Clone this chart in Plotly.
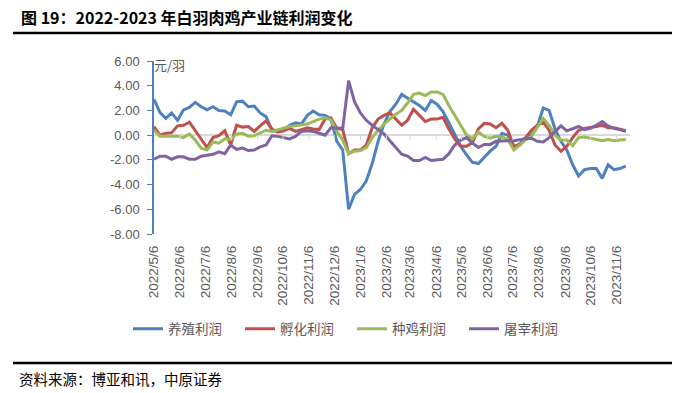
import datetime as dt
import plotly.graph_objects as go

# ---------------- data ----------------
start = dt.date(2022, 5, 6)
n_weeks = 81
dates = [start + dt.timedelta(days=7 * i) for i in range(n_weeks)]

breeding = [2.9, 1.85, 1.35, 1.8, 1.2, 2.05, 2.25, 2.65, 2.3, 2.05,
            2.3, 2.0, 1.95, 1.65, 2.7, 2.75, 2.3, 2.35, 1.8, 1.5,
            0.4, 0.27, 0.4, 0.8, 1.0, 0.9, 1.6, 1.95, 1.65, 1.6,
            1.3, -0.5, -1.2, -6.0, -4.8, -4.4, -3.7, -2.3, -0.5, 0.9,
            1.9, 2.5, 3.3, 3.0, 2.7, 2.4, 2.0, 2.8, 2.5, 1.9,
            1.0, 0.0, -0.9, -1.6, -2.2, -2.3, -1.8, -1.3, -0.9, 0.15,
            0.0, -1.0, -0.7, -0.3, 0.0, 0.7, 2.2, 2.0, 0.5, -0.5,
            -1.2, -2.4, -3.3, -2.8, -2.7, -2.7, -3.5, -2.4, -2.8, -2.7,
            -2.5]

hatching = [0.7, 0.0, 0.15, 0.2, 0.75, 0.8, 1.05, 0.4, -0.3, -1.0,
            -0.2, -0.05, 0.35, -0.8, 0.8, 0.65, 0.7, 0.3, 0.75, 1.15,
            0.5, 0.25, 0.35, 0.55, 0.3, 0.45, 0.6, 0.5, 0.45, 1.3,
            1.4, 0.55, 0.45, -1.5, -1.2, -1.2, -0.8, 0.6, 1.3, 1.6,
            1.8, 1.3, 0.8, 1.2, 2.1, 1.6, 1.1, 1.3, 1.3, 1.45,
            0.5, -0.3, -0.9, -0.9, -0.6, 0.5, 0.95, 0.9, 0.6, 0.95,
            0.4, -0.9, -0.8, -0.2, 0.4, 0.8, 1.05, 0.4, -0.8, -1.3,
            -0.9, -0.2, 0.4, 0.55, 0.6, 0.7, 0.8, 0.6, 0.6, 0.5,
            0.35]

parent = [0.4, -0.08, -0.08, -0.08, -0.08, -0.2, 0.1, -0.4, -1.05, -1.2,
          -0.55, -0.65, -0.3, -0.35, 0.1, 0.15, -0.08, -0.05, 0.2, 0.4,
          0.3, 0.42, 0.55, 0.7, 0.75, 0.85, 0.9, 1.1, 1.3, 1.4,
          1.25, 0.3, -0.4, -1.5, -1.3, -1.25, -1.0, -0.2, 0.4, 0.9,
          1.3, 1.7, 2.0, 2.6, 3.3, 3.4, 3.2, 3.5, 3.5, 3.3,
          2.4, 1.6, 0.7, 0.0, -0.3, 0.25, -0.1, -0.25, -0.1, -0.15,
          -0.35, -1.2, -0.8, -0.4, -0.1, 0.6, 1.35, 0.8, 0.0, -0.4,
          -0.4, -0.85, -0.2, -0.15, -0.25, -0.35, -0.45, -0.35, -0.45, -0.4,
          -0.35]

slaughter = [-1.95, -1.7, -1.7, -1.95, -1.75, -1.75, -1.95, -1.95, -1.7, -1.6,
             -1.55, -1.35, -1.5, -0.8, -1.15, -1.05, -1.25, -1.2, -0.95, -0.8,
             -0.05, -0.1, -0.2, -0.3, -0.1, 0.3, 0.35, 0.3, 0.15, 0.0,
             0.6, 0.55, 0.55, 4.4, 2.7, 1.8, 1.2, 0.8, 0.45, 0.1,
             -0.45, -1.0, -1.55, -1.7, -2.05, -2.05, -1.8, -2.05, -2.0, -1.95,
             -1.5, -0.8, -0.4, -0.2, -0.65, -1.0, -0.75, -0.75, -0.5, -0.45,
             -0.45, -0.45, -0.35, -0.3, -0.25, -0.5, -0.55, -0.2, 0.3, 0.75,
             0.35, 0.55, 0.7, 0.45, 0.55, 0.8, 1.1, 0.75, 0.55, 0.45,
             0.3]

series_names = ["养殖利润", "孵化利润", "种鸡利润", "屠宰利润"]
series_values = [breeding, hatching, parent, slaughter]
series_colors = ["#4F81BD", "#C0504D", "#9BBB59", "#8064A2"]

x_tick_dates = [dt.date(2022, m, 6) for m in range(5, 13)] + \
               [dt.date(2023, m, 6) for m in range(1, 12)]
x_tick_labels = [f"{d.year}/{d.month}/{d.day}" for d in x_tick_dates]

y_tick_vals = [6, 4, 2, 0, -2, -4, -6, -8]
y_tick_labels = [f"{v:.2f}" for v in y_tick_vals]

title_text = "图 19：2022-2023 年白羽肉鸡产业链利润变化"
unit_text = "元/羽"
source_text = "资料来源：博亚和讯，中原证券"

# ---------------- figure ----------------
W, H = 687, 393
L, R, T, B = 154, 630, 61, 234  # plot area in px

def px_x(x):
    return (x - L) / (R - L)

def px_y(y):
    return (B - y) / (B - T)

cjk = "Noto Sans CJK SC"
grey = "#595959"

fig = go.Figure()
for name, vals, col in zip(series_names, series_values, series_colors):
    fig.add_trace(go.Scatter(
        x=dates, y=vals, name=name, mode="lines",
        line=dict(color=col, width=3, shape="linear"),
    ))

# small tick marks on the zero line at each month label
shapes = []
for d in x_tick_dates:
    shapes.append(dict(type="line", xref="x", yref="y", x0=d, x1=d,
                       ysizemode="pixel", yanchor=0, y0=0, y1=-5,
                       line=dict(color="#D9D9D9", width=1)))
# heavy rules above chart and above source
shapes.append(dict(type="line", xref="paper", yref="paper",
                   x0=px_x(13), x1=px_x(672), y0=px_y(33), y1=px_y(33),
                   line=dict(color="#000000", width=2.5)))
shapes.append(dict(type="line", xref="paper", yref="paper",
                   x0=px_x(13), x1=px_x(672), y0=px_y(363), y1=px_y(363),
                   line=dict(color="#000000", width=2.5)))

fig.update_layout(
    width=W, height=H,
    margin=dict(l=L, r=W - R, t=T, b=H - B, pad=0),
    paper_bgcolor="white", plot_bgcolor="white",
    font=dict(family=cjk, color=grey),
    title=dict(text=title_text, xref="container", yref="container",
               x=21 / W, y=1 - 18 / H, xanchor="left", yanchor="middle",
               font=dict(family=cjk, size=16, color="#000000", weight="bold")),
    showlegend=True,
    legend=dict(orientation="h", x=px_x(128), y=px_y(329),
                xanchor="left", yanchor="middle",
                font=dict(family=cjk, size=13.5, color=grey),
                itemwidth=30, entrywidth=67, bgcolor="rgba(0,0,0,0)"),
    shapes=shapes,
    annotations=[
        dict(text=unit_text, xref="paper", yref="paper",
             x=px_x(152), y=px_y(64), xanchor="left", yanchor="middle",
             showarrow=False, font=dict(family=cjk, size=13, color=grey)),
        dict(text=source_text, xref="paper", yref="paper",
             x=px_x(17), y=px_y(378), xanchor="left", yanchor="middle",
             showarrow=False, font=dict(family=cjk, size=14.5, color="#000000")),
    ],
)

fig.update_xaxes(
    type="date",
    range=[dt.date(2022, 5, 6), dt.date(2023, 11, 22)],
    tickvals=x_tick_dates, ticktext=x_tick_labels,
    tickangle=-90, showgrid=False, showline=False, zeroline=False,
    ticks="", ticklabelstandoff=8,
    tickfont=dict(family="Liberation Sans", size=13.5, color=grey),
)
fig.update_yaxes(
    range=[-8, 6], tickvals=y_tick_vals, ticktext=y_tick_labels,
    showgrid=False, zeroline=True, zerolinecolor="#D9D9D9", zerolinewidth=1.5,
    showline=True, linecolor="#4F81BD", linewidth=1.5,
    ticks="outside", ticklen=5, tickcolor="#4F81BD", tickwidth=1,
    tickfont=dict(family="Liberation Sans", size=13, color=grey),
    ticklabelstandoff=5,
)

fig.write_html("out.html",
               config={"displayModeBar": False},
               post_script="document.body.style.margin='0';document.body.style.padding='0';")
